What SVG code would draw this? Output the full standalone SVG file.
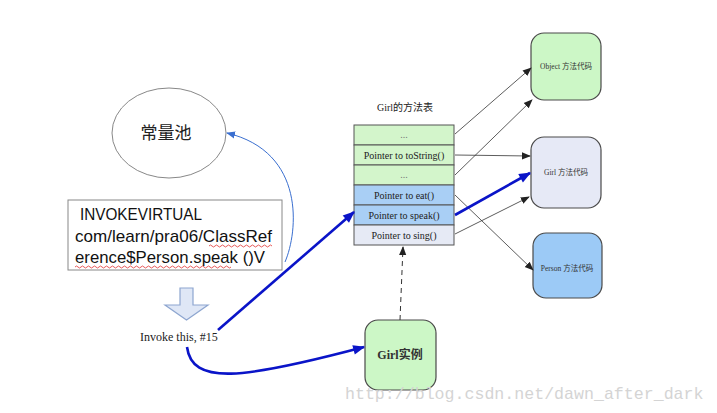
<svg xmlns="http://www.w3.org/2000/svg" width="717" height="413" viewBox="0 0 717 413">
<style>
.serif{font-family:"Liberation Serif","Noto Sans CJK SC",serif;}
.sans{font-family:"Liberation Sans","Noto Sans CJK SC",sans-serif;}
.box{stroke:#4a4a4a;stroke-width:1.2;}
.row{stroke:#555;stroke-width:1;}
.thin{stroke:#333;stroke-width:0.8;fill:none;}
.blue{stroke:#0a14c8;stroke-width:2.6;fill:none;}
.sq{fill:none;stroke:#e03030;stroke-width:0.8;}
</style>
<defs>
<marker id="ah" viewBox="0 0 10 10" refX="9" refY="5" markerWidth="9" markerHeight="9" markerUnits="userSpaceOnUse" orient="auto"><path d="M0,1 L10,5 L0,9 z" fill="#222"/></marker>
<marker id="bh" viewBox="0 0 10 10" refX="9" refY="5" markerWidth="14" markerHeight="12" markerUnits="userSpaceOnUse" orient="auto"><path d="M0,1 L10,5 L0,9 z" fill="#0a14c8"/></marker>
<marker id="lh" viewBox="0 0 10 10" refX="9" refY="5" markerWidth="9" markerHeight="9" markerUnits="userSpaceOnUse" orient="auto"><path d="M0,1 L10,5 L0,9 z" fill="#3a6fd0"/></marker>
</defs>
<rect width="717" height="413" fill="#fff"/>

<g id="pool">
<ellipse cx="169" cy="133" rx="57" ry="45" fill="#fff" stroke="#888" stroke-width="1"/>
<text x="166" y="139" class="sans" font-size="17" text-anchor="middle" fill="#222">常量池</text>
</g>

<g id="instr">
<rect x="68" y="200" width="214" height="70" fill="#fff" stroke="#888" stroke-width="1"/>
<text class="sans" font-size="17" fill="#111"><tspan x="80" y="220" textLength="122" lengthAdjust="spacingAndGlyphs">INVOKEVIRTUAL</tspan><tspan x="75" y="242" textLength="197" lengthAdjust="spacingAndGlyphs">com/learn/pra06/ClassRef</tspan><tspan x="75" y="263" textLength="190" lengthAdjust="spacingAndGlyphs">erence$Person.speak ()V</tspan></text>
<path class="sq" d="M209,246 q1.5,-2 3,0 t3,0 t3,0 t3,0 t3,0 t3,0 t3,0 t3,0 t3,0 t3,0 t3,0 t3,0 t3,0 t3,0 t3,0 t3,0 t3,0 t3,0 t3,0 t3,0 t3,0"/>
<path class="sq" d="M75,267 q1.5,-2 3,0 t3,0 t3,0 t3,0 t3,0 t3,0 t3,0 t3,0 t3,0 t3,0 t3,0 t3,0 t3,0 t3,0 t3,0 t3,0 t3,0 t3,0 t3,0 t3,0 t3,0 t3,0 t3,0 t3,0 t3,0 t3,0 t3,0 t3,0 t3,0 t3,0 t3,0 t3,0 t3,0 t3,0 t3,0 t3,0 t3,0 t3,0 t3,0 t3,0 t3,0 t3,0 t3,0 t3,0 t3,0 t3,0 t3,0 t3,0 t3,0 t3,0 t3,0 t3,0"/>
</g>

<g id="downarrow">
<path d="M180,288 L193,288 L193,305 L208,305 L186.5,320 L165,305 L180,305 z" fill="#dfe7f6" stroke="#8ea6d0" stroke-width="1.2"/>
</g>

<g id="invoke">
<text x="140" y="341" class="serif" font-size="12" fill="#222">Invoke this, #15</text>
</g>

<g id="table">
<text x="405" y="111" class="serif" font-size="10" text-anchor="middle" fill="#222">Girl的方法表</text>
<rect x="354" y="125" width="100" height="20" fill="#d3f5cb" class="row"/>
<rect x="354" y="145" width="100" height="20" fill="#d3f5cb" class="row"/>
<rect x="354" y="165" width="100" height="20" fill="#d3f5cb" class="row"/>
<rect x="354" y="185" width="100" height="20" fill="#a9cff5" class="row"/>
<rect x="354" y="205" width="100" height="20" fill="#a9cff5" class="row"/>
<rect x="354" y="225" width="100" height="20" fill="#e6eaf5" class="row"/>
<g class="serif" font-size="10" text-anchor="middle" fill="#222">
<text x="404" y="138" fill="#777">...</text>
<text x="404" y="159">Pointer to toString()</text>
<text x="404" y="178" fill="#777">...</text>
<text x="404" y="199">Pointer to eat()</text>
<text x="404" y="219">Pointer to speak()</text>
<text x="404" y="239">Pointer to sing()</text>
</g>
</g>

<g id="objectcode">
<rect x="531" y="33" width="70" height="67" rx="13" fill="#ccf7c6" class="box"/>
<text x="566" y="69" class="serif" font-size="7.5" text-anchor="middle" fill="#333">Object 方法代码</text>
</g>
<g id="girlcode">
<rect x="531" y="137" width="70" height="71" rx="13" fill="#e6e9f6" class="box"/>
<text x="566" y="175" class="serif" font-size="7.5" text-anchor="middle" fill="#333">Girl 方法代码</text>
</g>
<g id="personcode">
<rect x="533" y="233" width="69" height="65" rx="13" fill="#9ccaf6" class="box"/>
<text x="567" y="271" class="serif" font-size="7.5" text-anchor="middle" fill="#333">Person 方法代码</text>
</g>
<g id="girlinst">
<rect x="365" y="320" width="71" height="70" rx="13" fill="#ccf7c6" class="box"/>
<text x="400" y="359" class="serif" font-size="12" font-weight="bold" text-anchor="middle" fill="#333">Girl实例</text>
</g>

<g id="connectors">
<path d="M285,262 C298,232 306,152 227,133" stroke="#3a6fd0" stroke-width="1" fill="none" marker-end="url(#lh)"/>
<line x1="455" y1="134" x2="531" y2="68" class="thin" marker-end="url(#ah)"/>
<line x1="455" y1="175" x2="532" y2="100" class="thin" marker-end="url(#ah)"/>
<line x1="455" y1="155" x2="530" y2="156" class="thin" marker-end="url(#ah)"/>
<line x1="455" y1="234" x2="529" y2="197" class="thin" marker-end="url(#ah)"/>
<line x1="455" y1="195" x2="533" y2="270" class="thin" marker-end="url(#ah)"/>
<line x1="455" y1="215" x2="530" y2="173" class="blue" marker-end="url(#bh)"/>
<line x1="218" y1="330" x2="354" y2="212" class="blue" marker-end="url(#bh)"/>
<path d="M187,347 C192,385 240,380 364,347" class="blue" marker-end="url(#bh)"/>
<line x1="400" y1="320" x2="403" y2="247" stroke="#333" stroke-width="1" stroke-dasharray="5,4" marker-end="url(#ah)"/>
</g>

<text x="345" y="399" font-family="'Liberation Mono',monospace" font-size="16.6" fill="#d4d4d4">http://blog.csdn.net/dawn_after_dark</text>
</svg>
